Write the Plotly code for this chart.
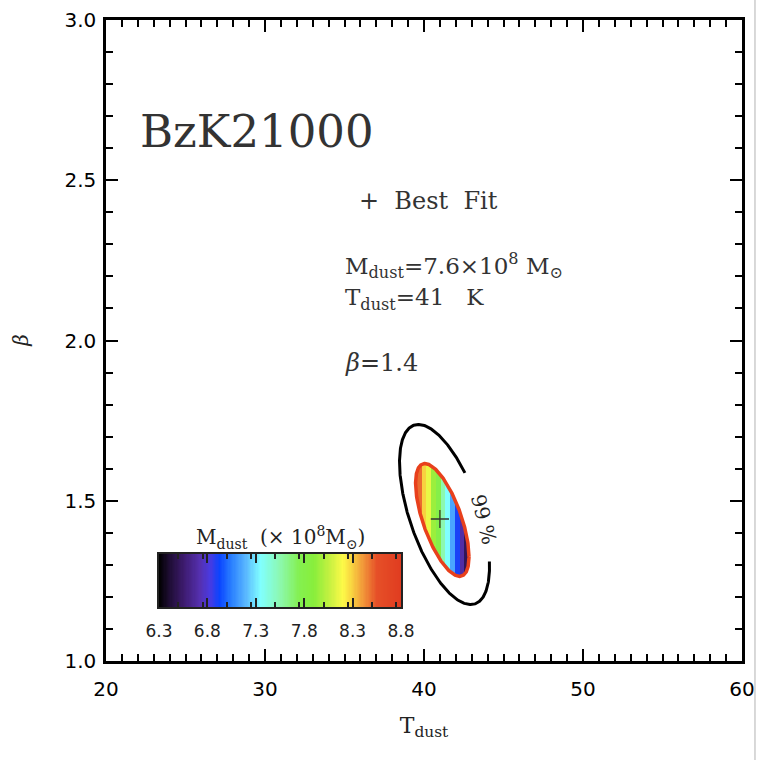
import numpy as np
import plotly.graph_objects as go

# ---------------- data ----------------
T_RANGE = [20, 60]
P_RANGE = [1.0, 3.0]

BEST_FIT_T = [41.0]
BEST_FIT_P = [1.443]

# filled (1-sigma-like) region: centre, half-extents, correlation
FILL_CENTER = [41.15, 1.44]
FILL_SIGMA = [1.68, 0.176]
FILL_RHO = -0.65

# 99 % contour: centre, half-extents, correlation, label gap (deg)
C99_CENTER = [41.29, 1.457]
C99_SIGMA = [2.83, 0.281]
C99_RHO = -0.58
C99_GAP_DEG = [4, 63]

# colour stripes inside the filled region (M_dust in 1e8 Msun vs T_dust)
STRIPE_T = [39.4, 39.7, 40.0, 40.3, 40.6, 40.9, 41.2, 41.5, 41.8, 42.1, 42.4, 42.7]
STRIPE_M = [8.7, 8.5, 8.3, 8.15, 7.95, 7.8, 7.55, 7.35, 7.15, 6.9, 6.7, 6.5]

CBAR_RANGE = [6.3, 8.8]
CBAR_TICK0 = 6.3

CSCALE = [
    [0.00, '#000000'], [0.04, '#1c0c30'], [0.10, '#3c1a6c'], [0.17, '#5530b0'],
    [0.21, '#4a3ae0'], [0.25, '#0a44ff'], [0.30, '#2a80ff'], [0.36, '#5ab8ff'],
    [0.42, '#80ffff'], [0.50, '#8cf8b0'], [0.58, '#84f050'], [0.64, '#88ee3c'],
    [0.70, '#c0f040'], [0.76, '#fdfa48'], [0.80, '#f8d040'], [0.85, '#f09038'],
    [0.90, '#e65028'], [1.00, '#e03c20'],
]


def ellipse_pts(center, sigma, rho, t_deg):
    t = np.radians(t_deg)
    q = np.sqrt(1 - rho ** 2)
    T = center[0] + sigma[0] * np.cos(t)
    P = center[1] + sigma[1] * (rho * np.cos(t) + q * np.sin(t))
    return T, P


fig = go.Figure()

# ---- filled region as masked heatmap coloured by stripe mass ----
tg = np.arange(39.2, 43.0, 0.025)
pg = np.arange(1.2, 1.72, 0.002)
TT, PP = np.meshgrid(tg, pg)
st = np.array(STRIPE_T)
sm = np.array(STRIPE_M)
idx = np.abs(TT[..., None] - st[None, None, :]).argmin(axis=2)
Z = sm[idx]
u = (TT - FILL_CENTER[0]) / FILL_SIGMA[0]
v = ((PP - FILL_CENTER[1]) / FILL_SIGMA[1] - FILL_RHO * u) / np.sqrt(1 - FILL_RHO ** 2)
Z = np.where(u ** 2 + v ** 2 <= 1.0, Z, np.nan)
fig.add_trace(go.Heatmap(x=tg, y=pg, z=Z, coloraxis='coloraxis', zsmooth=False,
                         hoverinfo='skip'))

# red outline
tr, pr = ellipse_pts(FILL_CENTER, FILL_SIGMA, FILL_RHO, np.linspace(0, 360, 361))
fig.add_trace(go.Scatter(x=tr, y=pr, mode='lines',
                         line=dict(color='#e8401c', width=3.5), hoverinfo='skip'))

# 99% contour with gap for label
tb, pb = ellipse_pts(C99_CENTER, C99_SIGMA, C99_RHO,
                     np.linspace(C99_GAP_DEG[1], 360 + C99_GAP_DEG[0], 400))
fig.add_trace(go.Scatter(x=tb, y=pb, mode='lines',
                         line=dict(color='black', width=3), hoverinfo='skip'))

# best fit
fig.add_trace(go.Scatter(x=BEST_FIT_T, y=BEST_FIT_P, mode='markers',
                         marker=dict(symbol='cross-thin', size=13,
                                     line=dict(color='#333333', width=1.3)),
                         hoverinfo='skip'))

# ---- colour bar drawn as an inset heatmap ----
cb_x = np.linspace(CBAR_RANGE[0], CBAR_RANGE[1], 201)
fig.add_trace(go.Heatmap(x=cb_x, y=[0, 1], z=[cb_x, cb_x], coloraxis='coloraxis',
                         xaxis='x2', yaxis='y2', zsmooth=False, hoverinfo='skip'))

serif = 'DejaVu Serif'
sans = 'DejaVu Sans'
txt = '#222222'

fig.update_layout(
    width=760, height=760, autosize=False,
    margin=dict(l=106, r=18, t=20, b=99, autoexpand=False),
    paper_bgcolor='white', plot_bgcolor='white',
    showlegend=False,
    coloraxis=dict(colorscale=CSCALE, cmin=CBAR_RANGE[0], cmax=CBAR_RANGE[1],
                   showscale=False),
    xaxis=dict(range=T_RANGE, tickmode='linear', tick0=20, dtick=10,
               automargin=False,
               ticks='inside', ticklen=12, tickwidth=2, tickcolor='black',
               showline=True, linewidth=2.5, linecolor='black', mirror='ticks',
               showgrid=False, zeroline=False,
               minor=dict(dtick=1, ticks='inside', ticklen=7, tickwidth=2,
                          tickcolor='black', showgrid=False),
               tickfont=dict(family=sans, size=20, color='black'),
               ticklabelstandoff=8,
               title=dict(text='T<sub>dust</sub>',
                          font=dict(family=serif, size=22, color=txt), standoff=18)),
    yaxis=dict(range=P_RANGE, tickmode='linear', tick0=1.0, dtick=0.5,
               tickformat='.1f', automargin=False,
               ticks='inside', ticklen=12, tickwidth=2, tickcolor='black',
               showline=True, linewidth=2.5, linecolor='black', mirror='ticks',
               showgrid=False, zeroline=False,
               minor=dict(dtick=0.1, ticks='inside', ticklen=7, tickwidth=2,
                          tickcolor='black', showgrid=False),
               tickfont=dict(family=sans, size=20, color='black'),
               ticklabelstandoff=3),
    xaxis2=dict(domain=[0.0833, 0.4638], anchor='y2', range=CBAR_RANGE,
                automargin=False,
                tickmode='linear', tick0=CBAR_TICK0, dtick=0.5, tickformat='.1f',
                ticks='inside', ticklen=9, tickwidth=1.5, tickcolor='#222',
                showline=True, linewidth=1.5, linecolor='#222', mirror='ticks',
                showgrid=False, zeroline=False,
                minor=dict(dtick=0.25, ticks='inside', ticklen=5, tickwidth=1.5,
                           tickcolor='#222', showgrid=False),
                tickfont=dict(family=sans, size=17, color='#222'),
                ticklabelstandoff=8),
    yaxis2=dict(domain=[0.0842, 0.1669], anchor='x2', range=[0, 1],
                automargin=False,
                showticklabels=False, ticks='', showline=True, linewidth=1.5,
                linecolor='#222', mirror=True, showgrid=False, zeroline=False),
)

ann = [
    dict(x=22.0, y=2.651, text='BzK21000', font=dict(family=serif, size=45, color='#333')),
    dict(x=35.79, y=2.436, text='+  Best  Fit', font=dict(family=serif, size=24, color='#333')),
    dict(x=34.9, y=2.233, text='M<sub>dust</sub>=7.6×10<sup>8</sup> M<sub>⊙</sub>',
         font=dict(family=serif, size=23, color='#333')),
    dict(x=34.9, y=2.128, text='T<sub>dust</sub>=41   K',
         font=dict(family=serif, size=23, color='#333')),
    dict(x=34.9, y=1.929, text='<i>β</i>=1.4', font=dict(family=serif, size=24, color='#333')),
]
for a in ann:
    fig.add_annotation(xref='x', yref='y', xanchor='left', yanchor='middle',
                       showarrow=False, **a)

fig.add_annotation(xref='x', yref='y', x=43.77, y=1.44, text='99 %', textangle=76,
                   showarrow=False, font=dict(family=serif, size=20, color=txt))
fig.add_annotation(xref='paper', yref='paper', x=0.2736, y=0.1919,
                   text='M<sub>dust</sub>  (× 10<sup>8</sup>M<sub>⊙</sub>)',
                   showarrow=False, xanchor='center', yanchor='middle',
                   font=dict(family=serif, size=20, color=txt))
fig.add_annotation(xref='paper', yref='paper', x=-0.135, y=0.5, text='<i>β</i>',
                   textangle=-90, showarrow=False, xanchor='center', yanchor='middle',
                   font=dict(family=serif, size=20, color=txt))

fig.add_shape(type='line', xref='paper', yref='paper', x0=1.0204, x1=1.0204,
              y0=-0.16, y1=1.04, line=dict(color='#cccccc', width=1.5))

fig.write_html('out.html')
